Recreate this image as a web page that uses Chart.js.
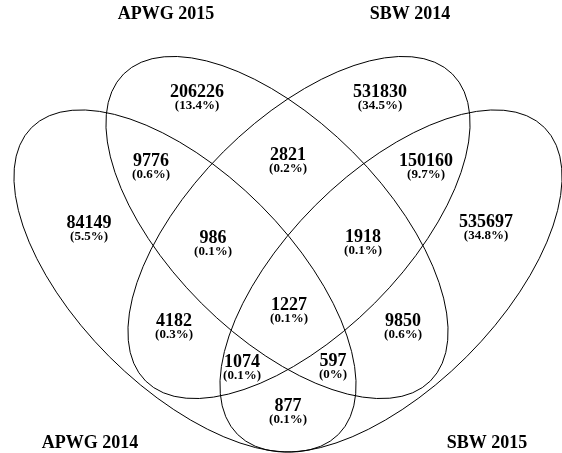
<!DOCTYPE html>
<html>
<head>
<meta charset="utf-8">
<script src="https://cdn.jsdelivr.net/npm/chart.js@4.4.1/dist/chart.umd.min.js"></script>
<style>
  html, body { margin: 0; padding: 0; background: #fff; }
  #wrap { width: 562px; height: 453px; }
</style>
</head>
<body>
<div id="wrap"><canvas id="venn"></canvas></div>
<script>
// data
const setNames = ['APWG 2014', 'APWG 2015', 'SBW 2014', 'SBW 2015'];
const regionCounts = [84149, 206226, 531830, 535697, 9776, 2821, 150160, 986, 1918, 4182, 9850, 1227, 1074, 597, 877];
const regionPercents = [5.5, 13.4, 34.5, 34.8, 0.6, 0.2, 9.7, 0.1, 0.1, 0.3, 0.6, 0.1, 0.1, 0, 0.1];

// layout (plot units = pixels of the 562x453 frame)
const regionX = [89, 197, 380, 486, 151, 288, 426, 213, 363, 174, 403, 289, 242, 333, 288];
const regionY = [229, 98, 98, 228, 167, 161, 167, 244, 243, 327, 327, 311, 368, 367, 412];
const setLabelX = [90, 166, 410, 487];
const setLabelY = [443, 14, 14, 443];
// ellipses: center, semi axes, rotation (deg)
const ellipseCx = [185, 277, 299, 391];
const ellipseCy = [281, 227.5, 227.5, 281];
const ellipseA = 217, ellipseB = 107;
const ellipseRot = [45, 45, -45, -45];

const vennPlugin = {
  id: 'venn',
  beforeDatasetsDraw(chart) {
    const {ctx, scales: {x, y}} = chart;
    ctx.save();
    ctx.strokeStyle = '#000';
    ctx.lineWidth = 1;
    for (let i = 0; i < ellipseCx.length; i++) {
      const px = x.getPixelForValue(ellipseCx[i]);
      const py = y.getPixelForValue(ellipseCy[i]);
      const ra = x.getPixelForValue(ellipseCx[i] + ellipseA) - px;
      const rb = x.getPixelForValue(ellipseCx[i] + ellipseB) - px;
      ctx.beginPath();
      ctx.ellipse(px, py, ra, rb, ellipseRot[i] * Math.PI / 180, 0, Math.PI * 2);
      ctx.stroke();
    }
    ctx.restore();
  },
  afterDatasetsDraw(chart) {
    const ctx = chart.ctx;
    ctx.save();
    ctx.fillStyle = '#000';
    ctx.textAlign = 'center';
    ctx.textBaseline = 'middle';
    chart.getDatasetMeta(0).data.forEach((pt, i) => {
      ctx.font = 'bold 18px "Liberation Serif", serif';
      ctx.fillText(String(regionCounts[i]), pt.x, pt.y - 6);
      ctx.font = 'bold 13px "Liberation Serif", serif';
      ctx.fillText('(' + regionPercents[i] + '%)', pt.x, pt.y + 8);
    });
    chart.getDatasetMeta(1).data.forEach((pt, i) => {
      ctx.font = 'bold 18px "Liberation Serif", serif';
      ctx.fillText(setNames[i], pt.x, pt.y);
    });
    ctx.restore();
  }
};

new Chart(document.getElementById('venn'), {
  type: 'scatter',
  data: {
    datasets: [
      {
        label: 'regions',
        data: regionCounts.map((c, i) => ({x: regionX[i], y: regionY[i]})),
        pointRadius: 0
      },
      {
        label: 'sets',
        data: setNames.map((n, i) => ({x: setLabelX[i], y: setLabelY[i]})),
        pointRadius: 0
      }
    ]
  },
  options: {
    responsive: true,
    maintainAspectRatio: false,
    animation: false,
    layout: { padding: 0 },
    scales: {
      x: { type: 'linear', min: 0, max: 562, display: false },
      y: { type: 'linear', min: 0, max: 453, reverse: true, display: false }
    },
    plugins: { legend: { display: false }, tooltip: { enabled: false } }
  },
  plugins: [vennPlugin]
});
</script>
</body>
</html>
